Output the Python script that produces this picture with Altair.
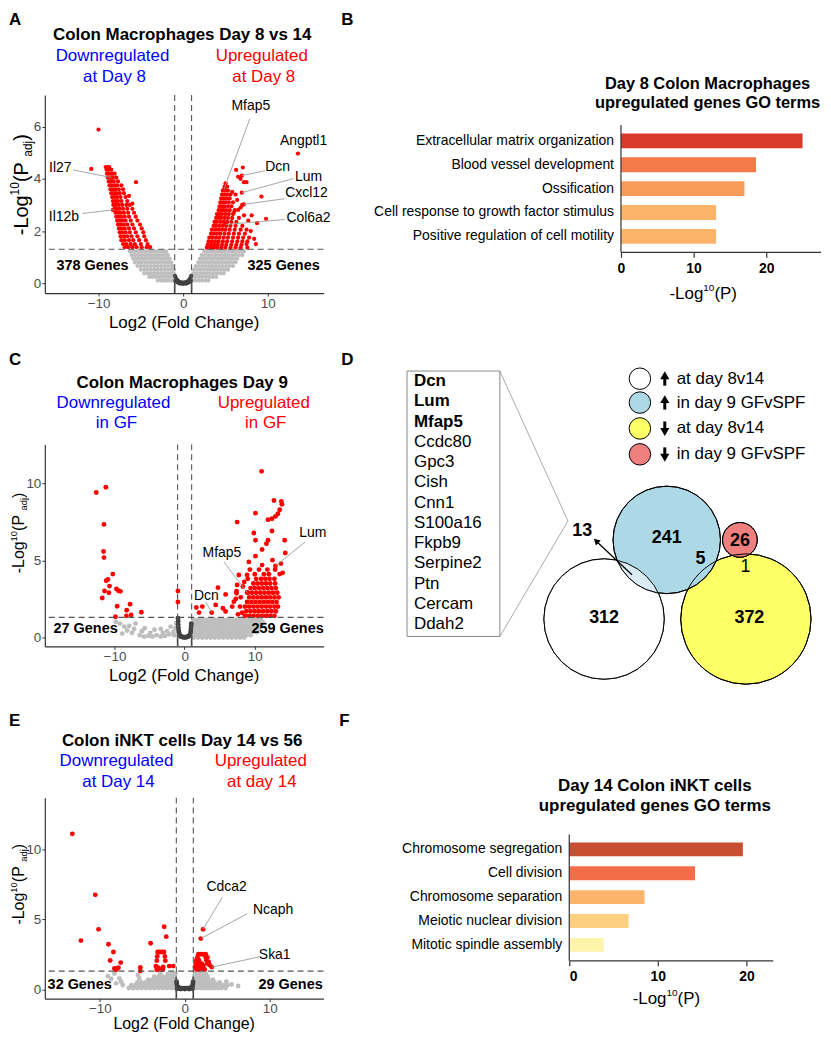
import altair as alt
import pandas as pd

FONT = "Liberation Sans"
RED = "#FF0000"
GRAY = "#BEBEBE"
DARK = "#404040"
BLUE = "#0000FF"

# ======================= Panel A : Colon Macrophages Day 8 vs 14 =======================
A_down_rows = {
    4.45: [-9.15, -8.95, -8.75],
    4.35: [-9.05, -8.8, -8.5],
    4.2: [-9.0, -8.7, -8.4, -8.1],
    4.05: [-8.9, -8.6, -8.3, -7.9],
    3.9: [-8.8, -8.5, -8.2, -7.7],
    3.75: [-8.7, -8.45, -8.1, -7.8, -7.3],
    3.6: [-8.6, -8.3, -8.0, -7.6, -7.1],
    3.45: [-8.5, -8.2, -7.9, -7.5, -7.0],
    3.3: [-8.4, -8.1, -7.8, -7.4, -6.8],
    3.15: [-8.3, -8.0, -7.7, -7.3, -6.6],
    3.0: [-8.25, -7.95, -7.6, -7.2, -6.7, -6.3],
    2.85: [-8.1, -7.8, -7.5, -7.1, -6.6, -6.0],
    2.7: [-8.0, -7.7, -7.4, -7.0, -6.5, -5.8],
    2.55: [-7.9, -7.6, -7.3, -6.9, -6.4, -5.6],
    2.4: [-7.8, -7.5, -7.2, -6.8, -6.2, -5.4],
    2.25: [-7.7, -7.4, -7.0, -6.6, -6.0, -5.1],
    2.1: [-7.6, -7.3, -6.9, -6.4, -5.8, -4.9],
    1.95: [-7.5, -7.2, -6.8, -6.3, -5.6, -4.7],
    1.8: [-7.4, -7.0, -6.6, -6.1, -5.4, -4.6],
    1.65: [-7.3, -6.9, -6.4, -5.9, -5.2, -4.4],
    1.5: [-7.1, -6.7, -6.2, -5.7, -5.0, -4.2],
    1.38: [-6.9, -6.5, -6.0, -5.5, -4.9, -4.3, -3.9],
}
A_down_extra = [(-10.0, 5.89), (-10.86, 4.38), (-5.57, 3.87), (-8.3, 2.81), (-8.47, 4.05),
                (-8.1, 2.82), (-6.0, 3.05), (-6.4, 3.35)]
A_up_rows = {
    3.7: [4.9, 5.2],
    3.55: [4.7, 5.0, 5.3],
    3.4: [4.6, 4.9, 5.2, 5.6],
    3.25: [4.5, 4.8, 5.1, 5.5],
    3.1: [4.4, 4.7, 5.0, 5.4, 5.9],
    2.95: [4.3, 4.6, 4.9, 5.3, 5.7],
    2.8: [4.2, 4.5, 4.8, 5.1, 5.5, 6.1],
    2.65: [4.0, 4.3, 4.6, 5.0, 5.4, 5.9],
    2.5: [3.9, 4.2, 4.5, 4.9, 5.3, 5.8, 6.6],
    2.35: [3.7, 4.0, 4.4, 4.8, 5.2, 5.7, 6.3],
    2.2: [3.6, 3.9, 4.3, 4.7, 5.1, 5.6, 6.2, 7.0],
    2.05: [3.4, 3.8, 4.2, 4.6, 5.0, 5.5, 6.1, 6.8, 7.5],
    1.9: [3.3, 3.6, 4.0, 4.4, 4.9, 5.4, 6.0, 6.6, 7.3],
    1.75: [3.1, 3.5, 3.9, 4.3, 4.8, 5.3, 5.9, 6.5, 7.1, 7.8],
    1.6: [3.0, 3.4, 3.8, 4.2, 4.7, 5.2, 5.8, 6.4, 7.0, 7.6],
    1.47: [2.9, 3.3, 3.7, 4.1, 4.6, 5.1, 5.7, 6.3, 6.9],
    1.36: [2.8, 3.2, 3.6, 4.0, 4.5, 5.0, 5.6, 6.2, 6.8, 7.6],
}
A_up_extra = [(13.57, 4.97), (7.06, 4.43), (6.27, 4.34), (6.5, 4.08), (6.78, 4.0), (7.18, 3.87),
              (7.49, 3.87), (5.02, 3.83), (9.26, 3.32), (9.8, 2.47), (6.98, 3.0), (6.39, 3.19),
              (6.5, 2.81), (8.74, 2.3), (4.82, 3.59), (6.94, 4.12), (6.94, 3.47), (7.18, 3.02),
              (5.06, 2.25), (8.0, 2.0), (8.4, 1.7), (7.7, 2.4), (8.6, 1.5), (7.2, 2.6), (6.8, 2.9),
              (8.1, 2.6), (7.5, 1.5), (5.8, 3.5), (6.2, 3.4), (6.0, 2.7)]
A_ns_rows = {
    1.22: [-6.3, -5.9, -5.5, -5.1, -4.7, -4.3, -3.9, -3.5, -3.1, -2.7, -2.3, -2.0,
           2.5, 2.9, 3.3, 3.7, 4.1, 4.5, 4.9, 5.3, 5.7, 6.1, 6.5, 6.9, 7.2],
    1.08: [-6.1, -5.7, -5.3, -4.9, -4.5, -4.1, -3.7, -3.3, -2.9, -2.5, -2.1, -1.8,
           2.2, 2.6, 3.0, 3.4, 3.8, 4.2, 4.6, 5.0, 5.4, 5.8, 6.2, 6.6, 7.0],
    0.94: [-5.9, -5.5, -5.1, -4.7, -4.3, -3.9, -3.5, -3.1, -2.7, -2.3, -1.9, -1.6,
           2.0, 2.4, 2.8, 3.2, 3.6, 4.0, 4.4, 4.8, 5.2, 5.6, 6.0, 6.4],
    0.8: [-5.7, -5.3, -4.9, -4.5, -4.1, -3.7, -3.3, -2.9, -2.5, -2.1, -1.7, -1.4,
          1.8, 2.2, 2.6, 3.0, 3.4, 3.8, 4.2, 4.6, 5.0, 5.4, 5.8, 6.2],
    0.66: [-5.4, -5.0, -4.6, -4.2, -3.8, -3.4, -3.0, -2.6, -2.2, -1.8, -1.4, -1.2,
           1.5, 1.9, 2.3, 2.7, 3.1, 3.5, 3.9, 4.3, 4.7, 5.1, 5.5, 5.9],
    0.52: [-5.0, -4.6, -4.2, -3.8, -3.4, -3.0, -2.6, -2.2, -1.8, -1.4, -1.1,
           1.3, 1.7, 2.1, 2.5, 2.9, 3.3, 3.7, 4.1, 4.5, 4.9, 5.3],
    0.38: [-4.6, -4.2, -3.8, -3.4, -3.0, -2.6, -2.2, -1.8, -1.4, -1.1,
           1.2, 1.6, 2.0, 2.4, 2.8, 3.2, 3.6, 4.0, 4.4, 4.8],
    0.24: [-4.0, -3.6, -3.2, -2.8, -2.4, -2.0, -1.6, -1.2,
           1.1, 1.5, 1.9, 2.3, 2.7, 3.1, 3.5, 3.9],
    0.1: [-3.0, -2.6, -2.2, -1.8, -1.4, -1.1, 1.1, 1.5, 1.9, 2.3, 2.7, 3.0],
}
A_mid = [(-0.95, 0.28), (-0.85, 0.2), (-0.75, 0.14), (-0.6, 0.09), (-0.45, 0.05), (-0.3, 0.03),
         (-0.15, 0.02), (0.0, 0.02), (0.15, 0.02), (0.3, 0.03), (0.45, 0.05), (0.6, 0.09),
         (0.75, 0.14), (0.85, 0.2), (0.95, 0.28), (-0.9, 0.1), (-0.7, 0.04), (-0.5, 0.0),
         (-0.3, -0.02), (0.0, -0.03), (0.3, -0.02), (0.5, 0.0), (0.7, 0.04), (0.9, 0.1)]
A_segs = [(-1, 0.15), (1, 0.15)]
# gene, point(x,y), line start(x,y), text(x,y), align
A_labels = [
    ("Il27", -8.47, 4.05, -13.0, 4.34, -13.2, 4.43, "right"),
    ("Il12b", -8.1, 2.82, -11.9, 2.67, -12.3, 2.52, "right"),
    ("Mfap5", 4.82, 3.59, 7.88, 6.30, 8.0, 6.79, "center"),
    ("Angptl1", 13.57, 4.97, 13.57, 4.97, 14.24, 5.46, "center"),
    ("Dcn", 6.94, 4.12, 9.65, 4.31, 11.18, 4.47, "center"),
    ("Lum", 6.94, 3.47, 13.06, 4.01, 14.82, 4.08, "center"),
    ("Cxcl12", 7.18, 3.02, 12.0, 3.24, 14.59, 3.47, "center"),
    ("Col6a2", 5.06, 2.25, 12.0, 2.44, 14.82, 2.48, "center"),
]

# ======================= Panel C : Colon Macrophages Day 9 =======================
C_down = [(-12.6, 9.4), (-11.23, 9.74), (-11.5, 7.33), (-11.56, 5.57), (-11.5, 5.18), (-10.24, 4.11),
          (-11.18, 3.68), (-10.95, 3.76), (-10.71, 3.33), (-11.42, 3.01), (-10.8, 2.9), (-9.72, 3.14),
          (-9.43, 3.03), (-9.15, 2.99), (-11.74, 2.56), (-9.62, 2.02), (-7.78, 2.15), (-8.25, 1.76),
          (-7.63, 1.46), (-8.3, 1.4), (-9.86, 1.34), (-6.17, 1.63), (-0.96, 3.01), (-0.96, 2.3)]
C_up_extra = [(10.97, 10.77), (12.74, 8.88), (13.79, 8.82), (13.87, 8.63), (13.55, 8.28), (13.3, 8.02),
              (12.94, 7.85), (12.45, 7.7), (11.89, 7.63), (10.1, 8.06), (7.49, 7.48), (9.86, 6.77),
              (10.1, 6.3), (11.89, 6.3), (14.26, 6.3), (14.35, 5.48), (11.04, 5.7), (11.66, 6.08),
              (12.45, 6.9), (13.72, 4.79), (12.52, 5.01), (10.1, 5.27), (9.15, 4.9), (11.04, 4.69),
              (13.97, 4.19), (13.55, 4.11), (7.73, 4.05), (8.91, 4.05), (5.84, 2.79), (4.75, 3.23),
              (7.49, 3.4), (2.52, 2.0), (1.67, 1.94), (3.86, 1.61), (2.06, 1.61), (5.46, 1.89),
              (4.43, 2.11), (6.78, 2.0), (5.84, 1.68), (7.4, 2.86), (7.02, 2.32), (8.9, 2.92),
              (12.94, 4.63), (7.6, 1.5), (7.9, 2.0), (8.2, 1.6), (7.3, 2.5), (7.4, 3.0), (8.0, 2.6),
              (8.3, 3.3), (8.5, 3.6), (9.0, 3.8), (9.3, 4.4)]
C_up_rows = {
    1.4: [8.6, 9.2, 9.8, 10.4, 11.0, 11.6, 12.2, 12.8],
    1.7: [8.8, 9.4, 10.0, 10.6, 11.2, 11.8, 12.4, 13.0],
    2.0: [8.6, 9.2, 9.8, 10.4, 11.0, 11.6, 12.2, 12.8, 13.3],
    2.3: [8.9, 9.5, 10.1, 10.7, 11.3, 11.9, 12.5, 13.1],
    2.6: [9.2, 9.8, 10.4, 11.0, 11.6, 12.2, 12.8, 13.4],
    2.9: [9.0, 9.6, 10.2, 10.8, 11.4, 12.0, 12.6, 13.2],
    3.2: [9.4, 10.0, 10.6, 11.2, 11.8, 12.4, 13.0],
    3.5: [9.8, 10.4, 11.0, 11.6, 12.2, 12.9],
    3.8: [10.2, 10.9, 11.5, 12.1, 12.8],
    4.1: [10.0, 11.3, 12.0],
    4.4: [10.6, 11.8, 12.9],
}
C_ns_rows = {
    1.15: [1.3, 1.9, 2.5, 3.1, 3.7, 4.3, 4.9, 5.5, 6.1, 6.7, 7.3, 7.9, 8.5, 9.1, 9.7, 10.3, 10.9],
    0.95: [1.6, 2.2, 2.8, 3.4, 4.0, 4.6, 5.2, 5.8, 6.4, 7.0, 7.6, 8.2, 8.8, 9.4, 10.0, 10.6, 11.2],
    0.75: [1.3, 1.9, 2.5, 3.1, 3.7, 4.3, 4.9, 5.5, 6.1, 6.7, 7.3, 7.9, 8.5, 9.1, 9.7, 10.3, 10.9],
    0.55: [1.6, 2.2, 2.8, 3.4, 4.0, 4.6, 5.2, 5.8, 6.4, 7.0, 7.6, 8.2, 8.8, 9.4, 10.0, 10.6],
    0.35: [1.3, 1.9, 2.5, 3.1, 3.7, 4.3, 4.9, 5.5, 6.1, 6.7, 7.3, 7.9, 8.5, 9.1, 9.7, 10.3],
    0.15: [1.6, 2.2, 2.8, 3.4, 4.0, 4.6, 5.2, 5.8, 6.4, 7.0, 7.6, 8.2, 8.8, 9.4],
    0.0: [1.3, 1.9, 2.5, 3.1, 3.7, 4.3, 4.9, 5.5, 6.1, 6.7, 7.3, 7.9, 8.5],
}
C_ns_left = [(-9.2, 0.9), (-8.6, 0.7), (-7.9, 0.75), (-7.5, 0.3), (-7.2, 0.55), (-8.2, 0.45),
             (-5.7, 0.6), (-4.3, 0.5), (-3.4, 0.55), (-2.0, 0.7), (-6.4, 0.15), (-5.8, 0.05),
             (-5.2, 0.1), (-4.6, 0.05), (-4.0, 0.15), (-3.4, 0.05), (-2.8, 0.1), (-2.2, 0.2),
             (-1.6, 0.35), (-1.3, 0.6), (-1.2, 0.9), (-1.5, 0.15), (-2.5, 0.4), (-3.1, 0.3),
             (-4.9, 0.3), (-6.1, 0.4), (-9.8, 1.0), (-8.9, 0.25), (-7.0, 0.9)]
C_mid = [(-0.95, 1.25), (-0.93, 1.05), (-0.92, 0.85), (-0.9, 0.65), (-0.85, 0.45), (-0.8, 0.3),
         (-0.7, 0.15), (-0.5, 0.05), (-0.3, 0.02), (0.0, 0.0), (0.3, 0.02), (0.5, 0.05), (0.7, 0.15),
         (0.85, 0.35), (0.9, 0.55), (0.93, 0.75), (0.95, 0.9), (-0.6, 0.1), (0.6, 0.1),
         (-0.2, 0.03), (0.2, 0.03)]
C_segs = [(-1, 1.3), (1, 0.95)]
C_labels = [
    ("Dcn", 3.86, 1.61, 3.0, 2.32, 3.09, 2.69, "center"),
    ("Mfap5", 8.9, 2.92, 5.6, 4.9, 5.32, 5.5, "center"),
    ("Lum", 12.94, 4.63, 17.19, 6.19, 18.27, 6.79, "center"),
]

# ======================= Panel E : Colon iNKT cells Day 14 vs 56 =======================
E_down = [(-13.25, 11.09), (-10.55, 6.74), (-10.16, 4.28), (-12.24, 3.48), (-8.99, 3.22), (-8.41, 2.67),
          (-8.79, 2.06), (-7.55, 1.91), (-8.29, 1.49), (-8.02, 1.49), (-7.82, 1.54), (-8.1, 1.4),
          (-5.24, 1.56), (-5.24, 1.32), (-4.03, 3.29), (-2.43, 4.47), (-2.19, 3.76), (-3.2, 2.67),
          (-2.95, 2.67), (-2.7, 2.67), (-2.45, 2.67), (-3.25, 2.35), (-2.35, 2.35), (-3.3, 2.05),
          (-2.3, 2.05), (-3.4, 1.65), (-3.15, 1.55), (-2.55, 1.6), (-2.85, 1.45), (-3.3, 1.4),
          (-2.6, 1.4), (-1.84, 1.66), (-1.37, 1.66)]
E_up = [(2.15, 4.28), (1.88, 3.62), (3.17, 1.59), (1.6, 2.51), (1.87, 2.51), (2.15, 2.51), (2.46, 2.51),
        (1.48, 2.27), (2.46, 2.27), (2.66, 2.27), (1.36, 2.08), (1.67, 2.08), (2.54, 2.08), (1.29, 1.84),
        (1.6, 1.84), (1.99, 1.84), (2.66, 1.84), (2.93, 1.73), (1.48, 1.61), (1.79, 1.61), (2.07, 1.49),
        (1.36, 1.42), (1.67, 1.42), (2.34, 1.42), (1.2, 1.61), (2.8, 1.95), (1.5, 2.0), (2.2, 1.7)]
E_ns_rows = {
    1.1: [-2.9, -2.0, -1.5, -1.1, 1.2, 1.6, 2.0, 2.5],
    0.9: [-3.6, -3.1, -2.6, -2.1, -1.6, -1.2, 1.1, 1.5, 1.9, 2.3, 2.7],
    0.7: [-4.3, -3.8, -3.3, -2.8, -2.3, -1.8, -1.3, 1.2, 1.6, 2.0, 2.4, 2.8, 3.3],
    0.5: [-5.6, -5.1, -4.6, -4.1, -3.6, -3.1, -2.6, -2.1, -1.6, -1.15,
          1.1, 1.5, 1.9, 2.3, 2.7, 3.1, 3.5, 4.1],
    0.3: [-6.3, -5.8, -5.3, -4.8, -4.3, -3.8, -3.3, -2.8, -2.3, -1.8, -1.3,
          1.2, 1.6, 2.0, 2.4, 2.8, 3.2, 3.6, 4.0, 4.5, 5.0],
    0.1: [-6.6, -6.1, -5.6, -5.1, -4.6, -4.1, -3.6, -3.1, -2.6, -2.1, -1.6, -1.15,
          1.1, 1.5, 1.9, 2.3, 2.7, 3.1, 3.5, 3.9, 4.3, 4.8],
}
E_ns_extra = [(-9.07, 0.95), (-8.68, 0.74), (-7.7, 0.78), (-7.5, 0.55), (-8.09, 0.43), (-5.51, 1.02),
              (-5.36, 0.78), (-8.29, 1.13), (-7.31, 0.31), (6.28, 0.24), (5.5, 0.35), (4.9, 0.55)]
E_mid = [(-0.97, 0.55), (-0.95, 0.4), (-0.9, 0.25), (-0.8, 0.15), (-0.6, 0.1), (-0.4, 0.08),
         (-0.2, 0.08), (0.0, 0.08), (0.2, 0.08), (0.4, 0.08), (0.6, 0.1), (0.8, 0.15), (0.9, 0.25),
         (0.95, 0.4), (0.97, 0.55), (-0.9, 0.05), (-0.5, 0.02), (0.0, 0.02), (0.5, 0.02), (0.9, 0.05)]
E_segs = [(-1, 0.9), (1, 0.9)]
E_labels = [
    ("Cdca2", 2.15, 4.28, 4.41, 6.57, 4.92, 7.28, "center"),
    ("Ncaph", 1.88, 3.62, 7.34, 5.39, 10.39, 5.63, "center"),
    ("Ska1", 3.17, 1.59, 8.79, 2.32, 10.59, 2.44, "center"),
]

# ======================= GO term bars (B, F) =======================
B_terms = ["Extracellular matrix organization", "Blood vessel development", "Ossification",
           "Cell response to growth factor stimulus", "Positive regulation of cell motility"]
B_vals = [25.0, 18.6, 17.0, 13.1, 13.1]
B_colors = ["#D93A2B", "#F47A4A", "#F99C5A", "#FCB46B", "#FCB46B"]

F_terms = ["Chromosome segregation", "Cell division", "Chromosome separation",
           "Meiotic nuclear division", "Mitotic spindle assembly"]
F_vals = [19.6, 14.2, 8.5, 6.7, 3.9]
F_colors = ["#C94F33", "#F36D48", "#FCB46C", "#FDCF80", "#FEF3AA"]

# ======================= Venn (D) =======================
venn_sets = ["up at day 8v14", "up in day 9 GFvSPF", "down at day 8v14", "down in day 9 GFvSPF"]
venn_cx = [35, 98, 177.5, 171.5]
venn_cy = [175.5, 96, 175.5, 96]
venn_r = [60.5, 54, 65.5, 17.5]
venn_fill = ["#FFFFFF", "#ADD8E6", "#FFFF66", "#F08080"]
venn_order = [0, 2, 1, 3]
venn_nums = ["241", "312", "372", "26", "5", "13", "1"]
venn_num_x = [98, 35, 181, 171.5, 132, 13, 177]
venn_num_y = [94, 174, 174, 97, 115, 87, 123]
venn_num_bold = [True, True, True, True, True, True, False]
shared_genes = ["Dcn", "Lum", "Mfap5", "Ccdc80", "Gpc3", "Cish", "Cnn1", "S100a16", "Fkpb9",
                "Serpine2", "Ptn", "Cercam", "Ddah2"]
shared_bold = [True, True, True] + [False] * 10
legend_dir = ["up", "up", "down", "down"]
legend_text = ["at day 8v14", "in day 9 GFvSPF", "at day 8v14", "in day 9 GFvSPF"]
legend_y = [-66, -42, -16, 10]

# ----------------------------------------------------------------------
CW = {'-': 0.333, 'L': 0.556, 'o': 0.556, 'g': 0.556, '1': 0.556, '0': 0.556, ' ': 0.278,
      '(': 0.333, 'P': 0.667, 'a': 0.556, 'd': 0.556, 'j': 0.222, ')': 0.333}


def one():
    return pd.DataFrame({"k": [0]})


def note(text, x, y, size=17, color="black", weight="normal", align="center",
         baseline="middle", angle=0, dx=0, dy=0, font=FONT):
    kw = dict(text=text, fontSize=size, color=color, fontWeight=weight, align=align,
              baseline=baseline, font=font, dx=dx, dy=dy)
    if angle:
        kw["angle"] = angle
    return alt.Chart(one()).mark_text(**kw).encode(x=alt.value(x), y=alt.value(y))


def letter(t, x, y):
    return note(t, x, y, size=17, weight="bold", align="left", baseline="top")


def rich(pieces, x, y, angle=0):
    widths = [sum(CW[c] for c in t) * s for t, s, _ in pieces]
    pos = -sum(widths) / 2
    out = []
    for (t, s, off), w in zip(pieces, widths):
        out.append(note(t, x, y, size=s, align="left", angle=angle, dx=pos, dy=off))
        pos += w
    return out


def flat(rows):
    return [(x, p) for p, xs in rows.items() for x in xs]


def volcano(red, ns, mid, segs, labels, xdom, ydom, yticks, size, w, h, texts):
    xs = alt.Scale(domain=xdom, nice=False, zero=False)
    ys = alt.Scale(domain=ydom, nice=False, zero=False)
    common = dict(title=None, grid=False, domainColor="#333333", domainWidth=1.2,
                  tickColor="#333333", tickSize=3, labelFontSize=13.5,
                  labelColor="#4D4D4D", labelFont=FONT)
    xa = alt.Axis(values=[-10, 0, 10], labelPadding=0, **common)
    ya = alt.Axis(values=yticks, labelPadding=1, **common)

    def X(f):
        return alt.X(f, type="quantitative", scale=xs, axis=xa)

    def Y(f):
        return alt.Y(f, type="quantitative", scale=ys, axis=ya)

    def pts(pairs, color):
        return alt.Chart(pd.DataFrame(pairs, columns=["lfc", "p"])).mark_circle(
            size=size, color=color, opacity=1).encode(x=X("lfc"), y=Y("p"))

    seg_df = pd.DataFrame({"x": [s[0] for s in segs], "top": [s[1] for s in segs],
                           "bot": [ydom[0]] * len(segs)})
    lab_df = pd.DataFrame(labels, columns=["gene", "px", "py", "lx", "ly", "tx", "ty", "al"])
    layers = [
        pts(ns, GRAY),
        pts(mid, DARK),
        alt.Chart(seg_df).mark_rule(color=DARK, strokeWidth=1.6).encode(
            x=X("x"), y=Y("bot"), y2=alt.Y2("top")),
        pts(red, RED),
        alt.Chart(pd.DataFrame({"v": [-1, 1]})).mark_rule(
            strokeDash=[6, 4], color="#555555", strokeWidth=1.1).encode(x=X("v")),
        alt.Chart(pd.DataFrame({"h": [1.3]})).mark_rule(
            strokeDash=[6, 4], color="#555555", strokeWidth=1.1).encode(y=Y("h")),
        alt.Chart(lab_df).mark_rule(color="#9A9A9A", strokeWidth=0.9).encode(
            x=X("px"), y=Y("py"), x2=alt.X2("lx"), y2=alt.Y2("ly")),
    ]
    for al in ["left", "center", "right"]:
        sub = lab_df[lab_df["al"] == al]
        if len(sub):
            layers.append(alt.Chart(sub).mark_text(fontSize=14, font=FONT, align=al,
                                                   color="black").encode(
                x=X("tx"), y=Y("ty"), text="gene:N"))
    layers += texts
    return alt.layer(*layers).properties(width=w, height=h)


def gobar(terms, vals, colors, xdom, rdom, rtop, w, h, half, lab_size, texts):
    df = pd.DataFrame({"term": terms, "val": vals, "fill": colors,
                       "rank": list(range(len(terms)))})
    xs = alt.Scale(domain=xdom, nice=False, zero=False)
    ys = alt.Scale(domain=rdom, nice=False, zero=False, reverse=True)
    xa = alt.Axis(values=[0, 10, 20], title=None, grid=False, domain=False, tickColor="#333333",
                  tickSize=5, tickWidth=1.2, labelFontSize=14, labelFontWeight="bold",
                  labelColor="black", labelFont=FONT, labelPadding=4)

    def X(f):
        return alt.X(f, type="quantitative", scale=xs, axis=xa)

    def Y(f):
        return alt.Y(f, type="quantitative", scale=ys, axis=None)

    bars = alt.Chart(df).transform_calculate(
        x0="0", y0=f"datum.rank - {half}", y1=f"datum.rank + {half}"
    ).mark_rect().encode(x=X("x0"), x2=alt.X2("val"), y=Y("y0"), y2=alt.Y2("y1"),
                         color=alt.Color("fill:N", scale=None))
    labs = alt.Chart(df).transform_calculate(x0="0").mark_text(
        align="right", dx=-7, fontSize=lab_size, font=FONT, color="black").encode(
        x=X("x0"), y=Y("rank"), text="term:N")
    ax_df = pd.DataFrame({"x0": [0], "x1": [xdom[1]], "ytop": [rtop], "ybot": [rdom[1]]})
    vline = alt.Chart(ax_df).mark_rule(color="#333333", strokeWidth=1.2).encode(
        x=X("x0"), y=Y("ytop"), y2=alt.Y2("ybot"))
    hline = alt.Chart(ax_df).mark_rule(color="#333333", strokeWidth=1.2).encode(
        x=X("x0"), x2=alt.X2("x1"), y=Y("ybot"))
    return alt.layer(bars, labs, vline, hline, *texts).properties(width=w, height=h)


PADJ_A = [("-Log", 20, 0), ("10", 12, -7), (" (P", 20, 0), ("adj", 12, 6), (")", 20, 0)]
PADJ = [("-Log", 16, 0), ("10", 9.5, -5.5), (" (P", 16, 0), ("adj", 9.5, 4.5), (")", 16, 0)]
PLOG = [("-Log", 17, 0), ("10", 10, -6), (" (P)", 17, 0)]

# ---------------- panel A ----------------
A_texts = [
    letter("A", -36, -83),
    note("Colon Macrophages Day 8 vs 14", 138, -60, weight="bold"),
    note("Downregulated", 68, -39, color=BLUE), note("at Day 8", 70, -18, color=BLUE),
    note("Upregulated", 218, -39, color=RED), note("at Day 8", 220, -18, color=RED),
    note("378 Genes", 48, 172, size=14.5, weight="bold"),
    note("325 Genes", 240, 172, size=14.5, weight="bold"),
    note("Log2 (Fold Change)", 140, 229),
] + rich(PADJ_A, -23, 90, angle=270)
panelA = volcano(flat(A_down_rows) + A_down_extra + flat(A_up_rows) + A_up_extra,
                 flat(A_ns_rows), A_mid, A_segs, A_labels,
                 [-16.35, 16.59], [-0.38, 7.21], [0, 2, 4, 6], 18, 280, 199, A_texts)

# ---------------- panel C ----------------
C_texts = [
    letter("C", -36, -93),
    note("Colon Macrophages Day 9", 138, -62, weight="bold"),
    note("Downregulated", 69, -42, color=BLUE), note("in GF", 72, -21, color=BLUE),
    note("Upregulated", 220, -42, color=RED), note("in GF", 222, -21, color=RED),
    note("27 Genes", 41, 186, size=14.5, weight="bold"),
    note("259 Genes", 244, 186, size=14.5, weight="bold"),
    note("Log2 (Fold Change)", 140, 233),
] + rich(PADJ, -25.5, 89, angle=270)
panelC = volcano(C_down + C_up_extra + flat(C_up_rows), flat(C_ns_rows) + C_ns_left, C_mid,
                 C_segs, C_labels, [-19.93, 19.79], [-0.58, 12.52], [0, 5, 10], 24, 280, 203,
                 C_texts)

# ---------------- panel E ----------------
E_texts = [
    letter("E", -36, -85),
    note("Colon iNKT cells Day 14 vs 56", 138, -57, weight="bold"),
    note("Downregulated", 72, -37, color=BLUE), note("at Day 14", 74, -16, color=BLUE),
    note("Upregulated", 217, -37, color=RED), note("at day 14", 218, -16, color=RED),
    note("32 Genes", 35, 188, size=14.5, weight="bold"),
    note("29 Genes", 247, 188, size=14.5, weight="bold"),
    note("Log2 (Fold Change)", 140, 227, size=16),
] + rich(PADJ, -25.5, 87, angle=270)
panelE = volcano(E_down + E_up, flat(E_ns_rows) + E_ns_extra, E_mid, E_segs, E_labels,
                 [-16.49, 16.33], [-0.66, 13.67], [0, 5, 10], 24, 280, 202, E_texts)

# ---------------- panel B ----------------
B_texts = [
    letter("B", -229, -83),
    note("Day 8 Colon Macrophages", 139, -11, size=16.5, weight="bold"),
    note("upregulated genes GO terms", 139, 8, size=16.5, weight="bold"),
] + rich(PLOG, 137, 200)
panelB = gobar(B_terms, B_vals, B_colors, [-7.12, 27.54], [-1.917, 4.667], -0.667, 253, 158,
               0.31, 14, B_texts)

# ---------------- panel F ----------------
F_texts = [
    letter("F", -231, -85),
    note("Day 14 Colon iNKT cells", 86, -12, weight="bold"),
    note("upregulated genes GO terms", 86, 8, weight="bold"),
] + rich(PLOG, 100, 202)
panelF = gobar(F_terms, F_vals, F_colors, [0, 23.03], [-2.167, 4.667], -0.625, 205, 164,
               0.29, 14, F_texts)

# ---------------- panel D ----------------
D_xs = alt.Scale(domain=[0, 250], nice=False, zero=False)
D_ys = alt.Scale(domain=[0, 203], nice=False, zero=False, reverse=True)


def DX(f):
    return alt.X(f, type="quantitative", scale=D_xs, axis=None)


def DY(f):
    return alt.Y(f, type="quantitative", scale=D_ys, axis=None)


# symbol size is the area of the bounding square: (2r)^2
AREA = "4 * datum.r * datum.r"
venn_df = pd.DataFrame({"set": venn_sets, "cx": venn_cx, "cy": venn_cy, "r": venn_r,
                        "fill": venn_fill})
circ_layers = []
for i in venn_order:
    circ_layers.append(
        alt.Chart(venn_df.iloc[[i]]).transform_calculate(area=AREA)
        .mark_circle(opacity=1, stroke="black", strokeWidth=1)
        .encode(x=DX("cx"), y=DY("cy"), size=alt.Size("area:Q", scale=None),
                color=alt.Color("fill:N", scale=None)))
lens = (alt.Chart(venn_df.iloc[[0]]).transform_calculate(area=AREA)
        .mark_circle(opacity=0.55, color="white")
        .encode(x=DX("cx"), y=DY("cy"), size=alt.Size("area:Q", scale=None)))
outlines = (alt.Chart(venn_df).transform_calculate(area=AREA)
            .mark_circle(fillOpacity=0, stroke="black", strokeWidth=1)
            .encode(x=DX("cx"), y=DY("cy"), size=alt.Size("area:Q", scale=None)))
nums_df = pd.DataFrame({"t": venn_nums, "x": venn_num_x, "y": venn_num_y, "b": venn_num_bold})
nums_bold = alt.Chart(nums_df[nums_df["b"]]).mark_text(
    fontSize=18, fontWeight="bold", font=FONT, color="black").encode(
    x=DX("x"), y=DY("y"), text="t:N")
nums_reg = alt.Chart(nums_df[~nums_df["b"]]).mark_text(
    fontSize=18, font=FONT, color="black").encode(x=DX("x"), y=DY("y"), text="t:N")
arrow_df = pd.DataFrame({"x0": [63], "y0": [131], "x1": [27], "y1": [97]})
arrow_line = alt.Chart(arrow_df).mark_rule(color="black", strokeWidth=1.3).encode(
    x=DX("x0"), y=DY("y0"), x2=alt.X2("x1"), y2=alt.Y2("y1"))
arrow_head = alt.Chart(arrow_df).mark_point(shape="triangle-up", filled=True, color="black",
                                            size=50, angle=313.5, opacity=1).encode(
    x=DX("x1"), y=DY("y1"))
box_df = pd.DataFrame({"x0": [-163], "x1": [-69.7], "y0": [-73.7], "y1": [193]})
gene_box = alt.Chart(box_df).mark_rect(fill="white", stroke="#888888", strokeWidth=1).encode(
    x=DX("x0"), x2=alt.X2("x1"), y=DY("y0"), y2=alt.Y2("y1"))
conn_df = pd.DataFrame({"x0": [-69.7, -1.3], "y0": [-73.7, 77], "x1": [-1.3, -69.7],
                        "y1": [77, 193]})
connector = alt.Chart(conn_df).mark_rule(color="#AAAAAA", strokeWidth=1).encode(
    x=DX("x0"), y=DY("y0"), x2=alt.X2("x1"), y2=alt.Y2("y1"))
genes_df = pd.DataFrame({"g": shared_genes, "b": shared_bold,
                         "i": list(range(len(shared_genes)))})
genes_df["x"] = -156
genes_df["y"] = -63.7 + genes_df["i"] * 20.37
genes_bold = alt.Chart(genes_df[genes_df["b"]]).mark_text(
    fontSize=17, fontWeight="bold", font=FONT, align="left", color="black").encode(
    x=DX("x"), y=DY("y"), text="g:N")
genes_reg = alt.Chart(genes_df[~genes_df["b"]]).mark_text(
    fontSize=17, font=FONT, align="left", color="black").encode(
    x=DX("x"), y=DY("y"), text="g:N")
leg_df = pd.DataFrame({"fill": venn_fill, "y": legend_y, "dir": legend_dir,
                       "lab": legend_text})
leg_df["x"] = 71
leg_df["xa"] = 96
leg_df["xt"] = 108
leg_df["r"] = 10.8
leg_circ = (alt.Chart(leg_df).transform_calculate(area=AREA)
            .mark_circle(opacity=1, stroke="black", strokeWidth=1)
            .encode(x=DX("x"), y=DY("y"), size=alt.Size("area:Q", scale=None),
                    color=alt.Color("fill:N", scale=None)))
leg_arrow_df = leg_df.copy()
leg_arrow_df["sgn"] = [-1 if d == "up" else 1 for d in leg_arrow_df["dir"]]
leg_arrow_df["shape"] = ["triangle-up" if d == "up" else "triangle-down"
                         for d in leg_arrow_df["dir"]]
leg_stem = alt.Chart(leg_arrow_df).transform_calculate(
    s0="datum.y - 7 * datum.sgn", s1="datum.y + 2 * datum.sgn"
).mark_rule(color="black", strokeWidth=3).encode(x=DX("xa"), y=DY("s0"), y2=alt.Y2("s1"))
leg_head = alt.Chart(leg_arrow_df).transform_calculate(
    hy="datum.y + 3.5 * datum.sgn"
).mark_point(filled=True, color="black", size=85, opacity=1).encode(
    x=DX("xa"), y=DY("hy"), shape=alt.Shape("shape:N", scale=None))
leg_text = alt.Chart(leg_df).mark_text(fontSize=17, font=FONT, align="left",
                                       color="black").encode(
    x=DX("xt"), y=DY("y"), text="lab:N")
panelD = alt.layer(
    connector, gene_box, genes_bold, genes_reg, *circ_layers, lens, outlines,
    nums_bold, nums_reg, arrow_line, arrow_head, leg_circ, leg_stem, leg_head, leg_text,
    letter("D", -229, -93),
).properties(width=250, height=203)

chart = alt.concat(
    panelA, panelB, panelC, panelD, panelE, panelF,
    columns=2, spacing={"row": 152, "column": 247}, bounds="flush", padding=0,
).configure_view(stroke="transparent")

chart.save("out.html", embed_options={"renderer": "svg", "actions": False})
